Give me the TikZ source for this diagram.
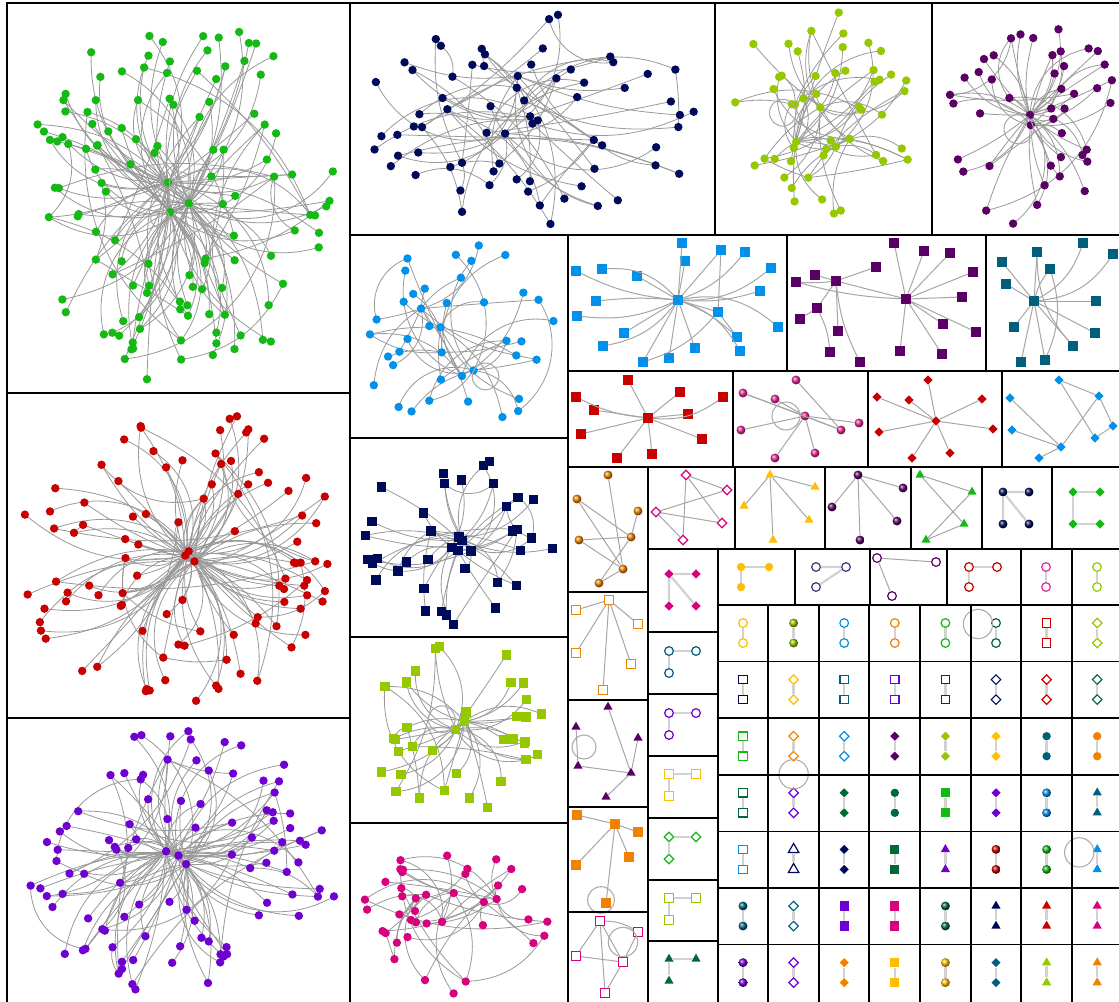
\documentclass[tikz,border=0pt]{standalone}
\usepackage{tikz}
\usetikzlibrary{shapes.geometric}
\pgfdeclarelayer{paper}
\pgfdeclarelayer{edges}
\pgfsetlayers{paper,edges,main}

\definecolor{cgreen}{RGB}{20,185,20}
\definecolor{cred}{RGB}{200,0,0}
\definecolor{cviolet}{RGB}{110,0,210}
\definecolor{cnavy}{RGB}{0,10,90}
\definecolor{cygreen}{RGB}{150,200,0}
\definecolor{cplum}{RGB}{90,0,100}
\definecolor{csky}{RGB}{0,145,235}
\definecolor{cmagenta}{RGB}{215,0,125}
\definecolor{cteal}{RGB}{0,95,125}
\definecolor{corange}{RGB}{240,130,0}
\definecolor{cgold}{RGB}{255,190,0}
\definecolor{cdgreen}{RGB}{0,105,55}
\definecolor{cpink}{RGB}{230,40,150}

\tikzset{
  cell/.style={draw=black, line width=1.1pt},
  link/.style={draw=gray!80, line width=0.6pt},
  slink/.style={draw=gray!70, line width=0.75pt},
  tlink/.style={draw=gray!35, line width=1.7pt},
  selfloop/.style={draw=gray!65, line width=0.8pt},
  gdot/.style={circle, fill=#1, inner sep=0pt, minimum size=6.3pt},
  gball/.style={circle, ball color=#1, inner sep=0pt, minimum size=6.7pt},
  gsqf/.style={rectangle, fill=#1, inner sep=0pt, minimum size=7pt},
  gsqo/.style={rectangle, draw=#1, fill=white, line width=0.9pt, inner sep=0pt, minimum size=6.3pt},
  gcirc/.style={circle, draw=#1, fill=white, line width=0.9pt, inner sep=0pt, minimum size=6.5pt},
  gdiao/.style={diamond, draw=#1, fill=white, line width=0.9pt, inner sep=0pt, minimum size=7.5pt},
  gdiaf/.style={diamond, fill=#1, inner sep=0pt, minimum size=7pt},
  gtrif/.style={regular polygon, regular polygon sides=3, fill=#1, inner sep=0pt, minimum size=8pt},
  gtrio/.style={regular polygon, regular polygon sides=3, draw=#1, fill=white, line width=0.9pt, inner sep=0pt, minimum size=9pt},
}

\def\hubspread{0.12}
% prefix, cx, cy, rx, ry, nodes, node style, hubs, seed
\newcommand{\netcell}[9]{%
  \pgfmathsetseed{#9}%
  \foreach \nk in {1,...,#8}{%
    \pgfmathsetmacro{\ang}{360*rnd}%
    \pgfmathsetmacro{\rad}{\hubspread*rnd}%
    \node[#7] (#1\nk) at ({#2+#4*\rad*cos(\ang)},{#3+#5*\rad*sin(\ang)}) {};
  }%
  \pgfmathtruncatemacro{\firstk}{#8+1}%
  \foreach \nk in {\firstk,...,#6}{%
    \pgfmathsetmacro{\ang}{360*rnd}%
    \pgfmathsetmacro{\rad}{0.18+0.82*sqrt(rnd)}%
    \node[#7] (#1\nk) at ({#2+#4*\rad*cos(\ang)},{#3+#5*\rad*sin(\ang)}) {};
  }%
  \begin{pgfonlayer}{edges}
  \foreach \nk in {\firstk,...,#6}{%
    \pgfmathtruncatemacro{\hb}{random(1,#8)}%
    \pgfmathsetmacro{\bd}{45*rand}%
    \draw[link] (#1\nk.center) to[bend left=\bd] (#1\hb.center);
  }%
  \pgfmathtruncatemacro{\nextra}{#6/5}%
  \foreach \nk in {1,...,\nextra}{%
    \pgfmathtruncatemacro{\ea}{random(1,#6)}%
    \pgfmathtruncatemacro{\eb}{random(1,#6)}%
    \pgfmathsetmacro{\bd}{45*rand}%
    \ifnum\ea=\eb\else
      \draw[link] (#1\ea.center) to[bend left=\bd] (#1\eb.center);
    \fi
  }%
  \end{pgfonlayer}
}

\begin{document}
\begin{tikzpicture}[x=0.75pt,y=-0.75pt]
\begin{pgfonlayer}{paper}
\fill[white] (0,0) rectangle (1119,1001);
\end{pgfonlayer}
\useasboundingbox (0,0) rectangle (1119,1001);

% large graphs
\def\hubspread{0.12}
\netcell{A}{178}{200}{160}{184}{125}{gdot=cgreen}{3}{11}
\netcell{B}{178}{555}{160}{150}{100}{gdot=cred}{3}{23}
\netcell{C}{178}{862}{162}{132}{100}{gdot=cviolet}{3}{37}
\def\hubspread{0.7}
\netcell{D}{532}{119}{172}{106}{70}{gdot=cnavy}{14}{5}
\def\hubspread{0.5}
\netcell{E}{823}{119}{100}{108}{52}{gdot=cygreen}{6}{8}
\def\hubspread{0.1}
\netcell{F}{1030}{119}{88}{108}{45}{gdot=cplum}{2}{19}
\def\hubspread{0.5}
\netcell{G}{459}{336}{100}{94}{40}{gdot=csky}{5}{29}
\netcell{H}{459}{537}{100}{90}{40}{gsqf=cnavy}{6}{31}
\def\hubspread{0.15}
\netcell{I}{459}{730}{100}{86}{36}{gsqf=cygreen}{2}{41}
\def\hubspread{0.5}
\netcell{J}{459}{912}{100}{82}{40}{gdot=cmagenta}{6}{43}

\draw[selfloop] (A1.center) ++(12,0) circle[radius=8pt];
\draw[selfloop] (A2.center) ++(-10,6) circle[radius=7pt];
\draw[selfloop] (E1.center) ++(-12,8) circle[radius=10pt];
\draw[selfloop] (F1.center) ++(-12,4) circle[radius=11pt];
\draw[selfloop] (G1.center) ++(12,6) circle[radius=10pt];
\draw[selfloop] (I1.center) ++(-14,-10) circle[radius=10pt];

% blue squares
\node[gsqf=csky] (ks0) at (678,300) {};
\foreach \j/\px/\py in {1/682/243, 2/685/261, 3/721/250, 4/745/252, 5/771/268, 6/760/291, 7/778/327, 8/576/271, 9/602/269, 10/637/276, 11/596/301, 12/577/316, 13/624/333, 14/603/346, 15/643/362, 16/669/358, 17/695/348, 18/718/312, 19/737/337, 20/740/351}
  \node[gsqf=csky] (ks\j) at (\px,\py) {};
\foreach \j/\bd in {1/0,2/0,3/0,4/-15,5/-20,6/-10,7/25,8/10,9/-25,10/0,11/-5,12/15,13/0,14/20,15/0,16/0,17/0,18/0,19/10,20/20}
  \draw[slink] (ks0) to[bend left=\bd] (ks\j);
\draw[slink] (ks3) -- (ks18) (ks18) to[bend left=15] (ks15) (ks18) -- (ks19);

% purple squares
\foreach \j/\px/\py in {0/906/299, 1/836/281, 2/894/243, 3/924/251, 4/950/253, 5/973/272, 6/962/297, 7/976/332, 8/943/324, 9/942/354, 10/900/351, 11/876/267, 12/815/275, 13/796/282, 14/817/308, 15/800/319, 16/838/331, 17/830/352, 18/860/362}
  \node[gsqf=cplum] (ls\j) at (\px,\py) {};
\foreach \j in {2,...,10} \draw[slink] (ls0) -- (ls\j);
\foreach \j/\bd in {11/0,12/0,13/5,14/0,16/0,18/-10} \draw[slink] (ls1) to[bend left=\bd] (ls\j);
\draw[slink] (ls0) to[bend left=6] (ls13) (ls0) -- (ls1) (ls14) -- (ls15) (ls14) to[bend left=10] (ls17);

% teal squares
\foreach \j/\px/\py in {0/1034/301, 1/1037/252, 2/1083/243, 3/1113/254, 4/1002/262, 5/1050/269, 6/1006/284, 7/1096/301, 8/1014/327, 9/1095/333, 10/1073/346, 11/1021/362, 12/1045/360}
  \node[gsqf=cteal] (ms\j) at (\px,\py) {};
\foreach \j/\bd in {1/0,2/-20,3/-25,4/0,5/10,6/0,7/0,8/0,9/0,10/0,11/0,12/0}
  \draw[slink] (ms0) to[bend left=\bd] (ms\j);
\draw[slink] (ms1) to[bend left=-20] (ms10) (ms5) to[bend left=20] (ms12);

% red squares
\foreach \j/\px/\py in {0/648/418, 1/628/380, 2/576/397, 3/594/410, 4/680/392, 5/723/397, 6/688/414, 7/581/434, 8/702/439, 9/617/458, 10/652/454}
  \node[gsqf=cred] (ns\j) at (\px,\py) {};
\foreach \j/\bd in {1/0,2/10,3/0,4/0,5/-20,6/0,7/0,8/0,9/0,10/0}
  \draw[slink] (ns0) to[bend left=\bd] (ns\j);

% pink spheres
\foreach \j/\px/\py in {0/805/416, 1/796/380, 2/743/393, 3/775/399, 4/859/423, 5/841/430, 6/741/430, 7/815/453, 8/775/458}
  \node[gball=cpink] (os\j) at (\px,\py) {};
\foreach \j in {2,...,8} \draw[slink] (os0) -- (os\j);
\draw[slink] (os1) -- (os5) (os2) -- (os5);
\draw[selfloop] (786,416) circle[radius=10.5pt];

% red diamonds
\foreach \j/\px/\py in {0/936/421, 1/928/380, 2/877/397, 3/909/400, 4/982/399, 5/879/432, 6/993/429, 7/912/458, 8/950/453}
  \node[gdiaf=cred] (ps\j) at (\px,\py) {};
\foreach \j in {1,...,8} \draw[slink] (ps0) -- (ps\j);

% blue diamonds
\foreach \j/\px/\py in {1/1059/380, 2/1099/396, 3/1010/398, 4/1113/426, 5/1012/430, 6/1095/438, 7/1061/447, 8/1039/458}
  \node[gdiaf=csky] (qs\j) at (\px,\py) {};
\draw[slink] (qs1) -- (qs2) (qs1) -- (qs6) (qs2) -- (qs4) (qs4) -- (qs6) (qs2) -- (qs7) (qs3) -- (qs7) (qs5) -- (qs7) (qs7) -- (qs8);

% orange spheres
\foreach \j/\px/\py in {1/608/475, 2/577/499, 3/638/511, 4/579/540, 5/631/537, 6/623/569, 7/599/583}
  \node[gball=corange] (rs\j) at (\px,\py) {};
\draw[slink] (rs1) -- (rs6) (rs2) -- (rs5) (rs2) -- (rs6) (rs3) -- (rs5) (rs4) -- (rs5) (rs4) -- (rs6) (rs5) -- (rs7) (rs6) -- (rs7);

% pink open diamonds
\foreach \j/\px/\py in {1/686/475, 2/727/490, 3/656/512, 4/722/523, 5/683/540}
  \node[gdiao=cmagenta] (ss\j) at (\px,\py) {};
\draw[slink] (ss1) -- (ss2) (ss1) -- (ss5) (ss1) -- (ss4) (ss3) -- (ss2) (ss3) -- (ss4) (ss3) -- (ss5);

% gold triangles
\foreach \j/\px/\py in {0/770/475, 1/815/487, 2/744/506, 3/809/520, 4/773/540}
  \node[gtrif=cgold] (ts\j) at (\px,\py) {};
\foreach \j in {1,...,4} \draw[slink] (ts0) -- (ts\j);

% purple spheres
\foreach \j/\px/\py in {0/858/475, 1/903/488, 2/832/507, 3/897/521, 4/860/540}
  \node[gball=cplum] (us\j) at (\px,\py) {};
\foreach \j in {1,...,4} \draw[slink] (us0) -- (us\j);

% green triangles
\foreach \j/\px/\py in {1/920/475, 2/972/492, 3/964/524, 4/926/540}
  \node[gtrif=cgreen] (vs\j) at (\px,\py) {};
\draw[slink] (vs1) -- (vs2) (vs1) -- (vs3) (vs2) -- (vs4) (vs3) -- (vs4);

% navy spheres
\foreach \j/\px/\py in {1/1003/492, 2/1029/492, 3/1003/524, 4/1029/524}
  \node[gball=cnavy] (ws\j) at (\px,\py) {};
\draw[tlink] (ws1) -- (ws2) (ws1) -- (ws3) (ws1) -- (ws4);

% green diamonds
\foreach \j/\px/\py in {1/1073/492, 2/1100/492, 3/1073/524, 4/1100/524}
  \node[gdiaf=cgreen] (xs\j) at (\px,\py) {};
\draw[tlink] (xs1) -- (xs2) (xs1) -- (xs3) (xs3) -- (xs4);

% magenta diamonds
\foreach \j/\px/\py in {1/669/574, 2/696/574, 3/669/606, 4/696/606}
  \node[gdiaf=cmagenta] (md\j) at (\px,\py) {};
\draw[tlink] (md1) -- (md2) (md1) -- (md3) (md1) -- (md4);

% three-node cells
\node[gdot=cgold] (yc1) at (741,567) {};
\node[gdot=cgold] (yc2) at (769,567) {};
\node[gdot=cgold] (yc3) at (741,587) {};
\draw[tlink] (yc1) -- (yc2) (yc1) -- (yc3);
\node[gcirc=cnavy!80] (nc1) at (816,567) {};
\node[gcirc=cnavy!80] (nc2) at (846,567) {};
\node[gcirc=cnavy!80] (nc3) at (816,587) {};
\draw[tlink] (nc1) -- (nc2) (nc2) -- (nc3);
\node[gcirc=cplum] (pc1) at (877,558) {};
\node[gcirc=cplum] (pc2) at (936,562) {};
\node[gcirc=cplum] (pc3) at (892,596) {};
\draw[slink] (pc1) -- (pc2) (pc1) -- (pc3);
\node[gcirc=cred] (rc1) at (969,567) {};
\node[gcirc=cred] (rc2) at (997,567) {};
\node[gcirc=cred] (rc3) at (969,587) {};
\draw[tlink] (rc1) -- (rc2) (rc1) -- (rc3);
\node[gcirc=cpink] (kc1) at (1046,567) {};
\node[gcirc=cpink] (kc2) at (1046,587) {};
\draw[tlink] (kc1) -- (kc2);
\node[gcirc=cygreen] (lc1) at (1097,567) {};
\node[gcirc=cygreen] (lc2) at (1097,587) {};
\draw[tlink] (lc1) -- (lc2);

\foreach \nm/\yy/\st/\cl in {tc/651/gcirc/cteal, vc/713/gcirc/cviolet, yq/774/gsqo/cgold, gd/837/gdiao/cgreen, lq/898/gsqo/cygreen, dt/959/gtrif/cdgreen} {
  \node[\st=\cl] (\nm1) at (669,\yy) {};
  \node[\st=\cl] (\nm2) at (696,\yy) {};
  \node[\st=\cl] (\nm3) at (669,{\yy+22}) {};
  \draw[tlink] (\nm1) -- (\nm2) (\nm1) -- (\nm3);
}

% orange open squares
\foreach \j/\px/\py in {0/609/600, 1/576/610, 2/638/624, 3/576/653, 4/631/664, 5/603/690}
  \node[gsqo=corange] (oq\j) at (\px,\py) {};
\foreach \j in {1,...,5} \draw[slink] (oq0) -- (oq\j);

% purple triangles
\foreach \j/\px/\py in {1/608/707, 2/576/727, 3/638/738, 4/578/766, 5/631/773, 6/606/797}
  \node[gtrif=cplum] (pt\j) at (\px,\py) {};
\draw[slink] (pt1) -- (pt5) (pt3) -- (pt5) (pt4) -- (pt5) (pt5) -- (pt6) (pt2) -- (pt4);
\draw[selfloop] (584,747) circle[radius=9pt];

% orange squares
\foreach \j/\px/\py in {1/577/815, 2/615/824, 3/638/832, 4/576/865, 5/629/857, 6/606/903}
  \node[gsqf=corange] (of\j) at (\px,\py) {};
\draw[slink] (of1) -- (of2) (of2) -- (of3) (of2) -- (of4) (of2) -- (of5) (of2) -- (of6);
\draw[selfloop] (601,900) circle[radius=10pt];

% magenta open squares
\foreach \j/\px/\py in {1/600/921, 2/638/932, 3/576/956, 4/623/962, 5/605/993}
  \node[gsqo=cmagenta] (mq\j) at (\px,\py) {};
\draw[slink] (mq1) -- (mq3) (mq1) -- (mq4) (mq1) -- (mq5) (mq1) to[bend left=15] (mq2) (mq3) -- (mq4) (mq4) -- (mq5) (mq2) -- (mq4);
\draw[selfloop] (623,942) circle[radius=11pt];

% grid of pairs
\foreach \r/\c/\st/\cl in {
  1/1/gcirc/cgold, 1/2/gball/cygreen, 1/3/gcirc/csky, 1/4/gcirc/corange, 1/5/gcirc/cgreen, 1/6/gcirc/cdgreen, 1/7/gsqo/cred, 1/8/gdiao/cygreen,
  2/1/gsqo/cnavy, 2/2/gdiao/cgold, 2/3/gsqo/cteal, 2/4/gsqo/cviolet, 2/5/gsqo/cplum, 2/6/gdiao/cnavy, 2/7/gdiao/cred, 2/8/gdiao/cdgreen,
  3/1/gsqo/cgreen, 3/2/gdiao/corange, 3/3/gdiao/csky, 3/4/gdiaf/cplum, 3/5/gdiaf/cygreen, 3/6/gdiaf/cgold, 3/7/gdot/cteal, 3/8/gdot/corange,
  4/1/gsqo/cdgreen, 4/2/gdiao/cviolet, 4/3/gdiaf/cdgreen, 4/4/gdot/cdgreen, 4/5/gsqf/cgreen, 4/6/gdiaf/cviolet, 4/7/gball/csky, 4/8/gtrif/cteal,
  5/1/gsqo/csky, 5/2/gtrio/cnavy, 5/3/gdiaf/cnavy, 5/4/gsqf/cdgreen, 5/5/gtrif/cviolet, 5/6/gball/cred, 5/7/gball/cgreen, 5/8/gtrif/csky,
  6/1/gball/cteal, 6/2/gdiao/cteal, 6/3/gsqf/cviolet, 6/4/gsqf/cmagenta, 6/5/gball/cdgreen, 6/6/gtrif/cnavy, 6/7/gtrif/cred, 6/8/gtrif/cmagenta,
  7/1/gball/cviolet, 7/2/gdiao/cviolet, 7/3/gdiaf/corange, 7/4/gsqf/cgold, 7/5/gball/cgold, 7/6/gdiaf/cteal, 7/7/gtrif/cygreen, 7/8/gtrif/corange} {
  \node[\st=\cl] (p\r\c a) at ({692.4+50.6*\c},{605+56.6*(\r-1)+18}) {};
  \node[\st=\cl] (p\r\c b) at ({692.4+50.6*\c},{605+56.6*(\r-1)+38}) {};
  \draw[tlink] (p\r\c a) -- (p\r\c b);
}
\draw[selfloop] (p16a.center) ++(-18,1) circle[radius=11pt];
\draw[selfloop] (p32b.center) ++(0,18) circle[radius=11pt];
\draw[selfloop] (p58a.center) ++(-18,3) circle[radius=11pt];

% cell frames
\foreach \xa/\ya/\xb/\yb in {7/3/350/393, 7/393/350/718, 7/718/350/1003, 350/3/715/235, 715/3/932/235, 932/3/1121/235,
  350/235/568/438, 350/438/568/637, 350/637/568/823, 350/823/568/1003,
  568/235/787/371, 787/235/986/371, 986/235/1121/371,
  568/371/733/467, 733/371/868/467, 868/371/1002/467, 1002/371/1121/467,
  568/467/648/592, 648/467/735/549, 735/467/825/549, 825/467/911/549, 911/467/982/549, 982/467/1052/549, 1052/467/1121/549,
  648/549/718/632, 718/549/795/605, 795/549/870/605, 870/549/947/605, 947/549/1021/605, 1021/549/1072/605, 1072/549/1121/605,
  568/592/648/700, 568/700/648/807, 568/807/648/912, 568/912/648/1003,
  648/632/718/694, 648/694/718/756, 648/756/718/818, 648/818/718/880, 648/880/718/941, 648/941/718/1003}
  \draw[cell] (\xa,\ya) rectangle (\xb,\yb);
\foreach \gx in {718,768,819,869,920,971,1021,1072}
  \draw[cell] (\gx,605) -- (\gx,1003);
\foreach \gy in {605,661.6,718.2,774.8,831.4,888,944.6}
  \draw[cell] (718,\gy) -- (1121,\gy);
\end{tikzpicture}
\end{document}
